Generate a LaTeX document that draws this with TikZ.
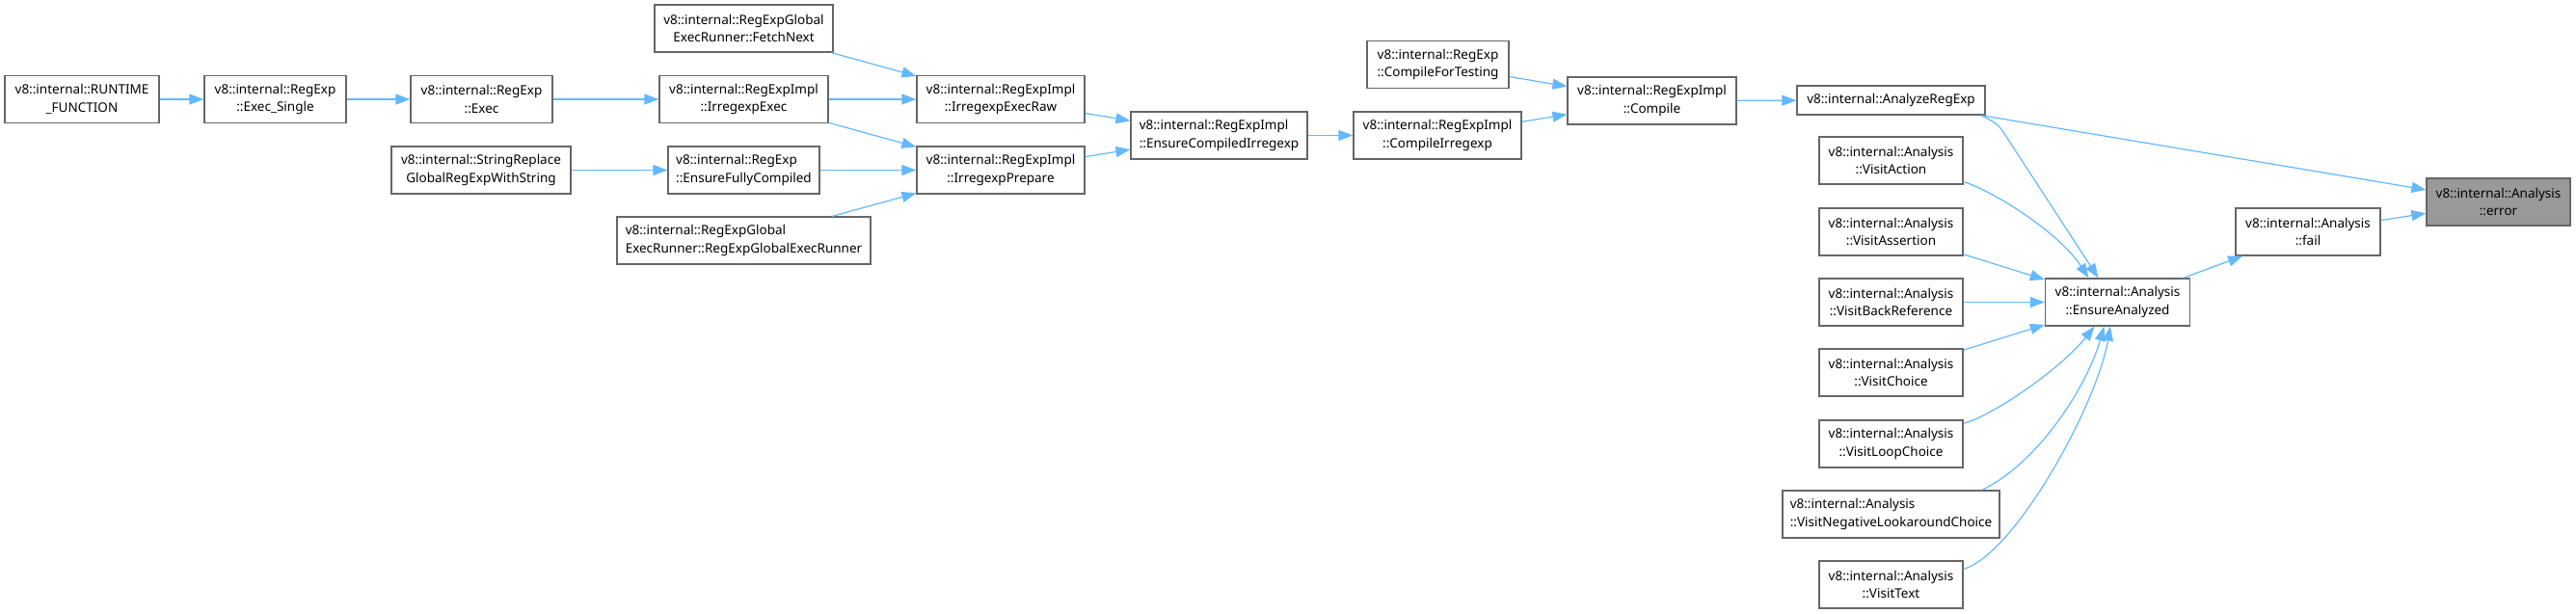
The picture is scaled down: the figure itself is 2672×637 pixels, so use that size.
\documentclass[tikz,border=0pt]{standalone}
\usepackage{fontspec}
\setmainfont{Noto Sans}
\usetikzlibrary{arrows.meta,calc}
\definecolor{edgecol}{HTML}{63B8FF}
\definecolor{bordercol}{HTML}{666666}
\definecolor{hlfill}{HTML}{999999}
\tikzset{
  box/.style={draw=bordercol, line width=1.2pt, fill=white, inner sep=0pt,
    minimum height=49pt, align=center,
    font=\fontsize{13.5pt}{18.5pt}\selectfont},
  hlbox/.style={box, fill=hlfill},
  edge/.style={draw=edgecol, line width=1.2pt, -{Triangle[length=15pt,width=11pt]}},
}
\begin{document}
\begin{tikzpicture}[x=1pt,y=-1pt]
\useasboundingbox (0,0) rectangle (2672,637);
% left part
\node[box, minimum width=160pt] (runtime) at (85,103) {v8::internal::RUNTIME\\\_FUNCTION};
\node[box, minimum width=147pt] (execsingle) at (285.5,103) {v8::internal::RegExp\\::Exec\_Single};
\node[box, minimum width=147pt] (exec) at (499.5,103) {v8::internal::RegExp\\::Exec};
\node[box, minimum width=175pt] (iexec) at (771.5,103) {v8::internal::RegExpImpl\\::IrregexpExec};
\node[box, minimum width=185pt] (fetch) at (771.5,29.5) {v8::internal::RegExpGlobal\\ExecRunner::FetchNext};
\node[box, minimum width=186pt] (strrep) at (499,176.5) {v8::internal::StringReplace\\GlobalRegExpWithString};
\node[box, minimum width=157pt, align=left] (efc) at (771.5,176.5) {v8::internal::RegExp\\::EnsureFullyCompiled};
\node[box, minimum width=263pt, align=left] (runner) at (771.5,249.5) {v8::internal::RegExpGlobal\\ExecRunner::RegExpGlobalExecRunner};
\node[box, minimum width=174pt] (raw) at (1038,103) {v8::internal::RegExpImpl\\::IrregexpExecRaw};
\node[box, minimum width=174pt] (prep) at (1038,176.5) {v8::internal::RegExpImpl\\::IrregexpPrepare};
\node[box, minimum width=183pt, align=left] (eci) at (1264.5,140.5) {v8::internal::RegExpImpl\\::EnsureCompiledIrregexp};
\node[box, minimum width=174pt] (cirr) at (1491,140.5) {v8::internal::RegExpImpl\\::CompileIrregexp};
\node[box, minimum width=147pt] (cft) at (1491.5,67) {v8::internal::RegExp\\::CompileForTesting};
\node[box, minimum width=175pt] (compile) at (1713.5,104.5) {v8::internal::RegExpImpl\\::Compile};
% right part
\node[box, minimum width=195pt, minimum height=30pt] (analyze) at (1961.5,104) {v8::internal::AnalyzeRegExp};
\node[box, minimum width=149pt] (vaction) at (1961.5,166.5) {v8::internal::Analysis\\::VisitAction};
\node[box, minimum width=149pt] (vassert) at (1961.5,240.5) {v8::internal::Analysis\\::VisitAssertion};
\node[box, minimum width=149pt] (vbackref) at (1961.5,313.5) {v8::internal::Analysis\\::VisitBackReference};
\node[box, minimum width=149pt] (vchoice) at (1961.5,386.5) {v8::internal::Analysis\\::VisitChoice};
\node[box, minimum width=149pt] (vloop) at (1961.5,460.5) {v8::internal::Analysis\\::VisitLoopChoice};
\node[box, minimum width=225pt, align=left] (vneg) at (1961.5,533.5) {v8::internal::Analysis\\::VisitNegativeLookaroundChoice};
\node[box, minimum width=149pt] (vtext) at (1961.5,606.5) {v8::internal::Analysis\\::VisitText};
\node[box, minimum width=150pt] (ea) at (2196.5,313.5) {v8::internal::Analysis\\::EnsureAnalyzed};
\node[box, minimum width=150pt] (fail) at (2394,240.5) {v8::internal::Analysis\\::fail};
\node[hlbox, minimum width=149pt] (error) at (2591.5,209.5) {v8::internal::Analysis\\::error};
% edges
\draw[edge] (runtime) -- (execsingle);
\draw[edge] (execsingle) -- (exec);
\draw[edge] (exec) -- (iexec);
\draw[edge] (fetch) -- (raw);
\draw[edge] (iexec) -- (raw);
\draw[edge] (iexec) -- (prep);
\draw[edge] (strrep) -- (efc);
\draw[edge] (efc) -- (prep);
\draw[edge] (runner) -- (prep);
\draw[edge] (raw) -- (eci);
\draw[edge] (prep) -- (eci);
\draw[edge] (eci) -- (cirr);
\draw[edge] (cirr) -- (compile);
\draw[edge] (cft) -- (compile);
\draw[edge] (compile) -- (analyze);
\draw[edge] (analyze) -- (error);
\draw[edge] ($(analyze.south east)+(-5,0)$) .. controls (2066,125) and (2071,128) .. (2076,134) -- ($(ea.north)+(-20,0)$);
\draw[edge] ($(vaction.south east)+(0,-3)$) .. controls (2065,197) and (2135,240) .. ($(ea.north)+(-30,0)$);
\draw[edge] (vassert) -- (ea);
\draw[edge] (vbackref) -- (ea);
\draw[edge] (vchoice) -- (ea);
\draw[edge] ($(vloop.north east)+(0,4)$) .. controls (2070,430) and (2140,380) .. ($(ea.south)+(-24,0)$);
\draw[edge] ($(vneg.north east)+(-19,0)$) .. controls (2115,480) and (2165,400) .. ($(ea.south)+(-14,0)$);
\draw[edge] ($(vtext.north east)+(0,9)$) .. controls (2090,575) and (2175,420) .. ($(ea.south)+(-7.5,0)$);
\draw[edge] (ea) -- (fail);
\draw[edge] (fail) -- (error);
\end{tikzpicture}
\end{document}
